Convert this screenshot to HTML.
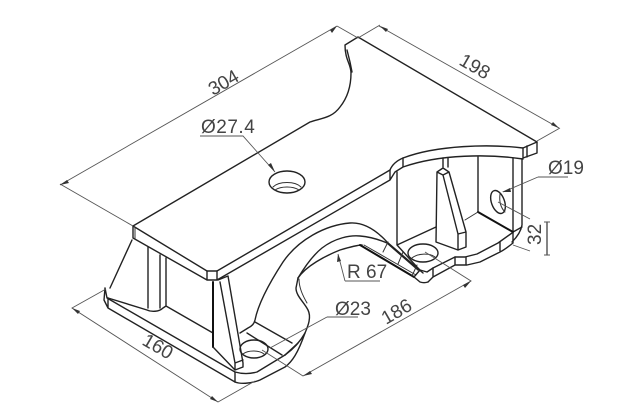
<!DOCTYPE html>
<html><head><meta charset="utf-8"><style>
html,body{margin:0;padding:0;background:#fff}svg{display:block}
text{font-family:"Liberation Sans",sans-serif;font-size:19px;fill:#444}
.b{fill:none;stroke:#222;stroke-width:1.4;stroke-linejoin:round;stroke-linecap:round}
.t{fill:none;stroke:#333;stroke-width:1;stroke-linecap:round}
.k{fill:none;stroke:#111;stroke-width:2;stroke-linecap:round}
.d{fill:none;stroke:#555;stroke-width:.9}
.a{fill:#333}
</style></head><body>
<svg width="640" height="418" viewBox="0 0 640 418" xmlns="http://www.w3.org/2000/svg">
<!-- top plate -->
<path class="b" d="M133 226L310 122C322 118 332 118 340 107C348 97 351 85 351 73C351 64 345 60 345 45L358 37L537 142L523 148C490 144 437 145 403 158C396 161 392 165 390 170L217 271H207L133 226Z"/>
<path class="b" d="M133 226V238L207 280H217L390 180V170M207 271V280M217 271V280M537 142V153L523 158V148M527 146V157M523 159C490 154 440 154 403 167L395 172L390 180M403 158V167M347 50L350 62L352 72"/>
<path class="t" d="M135 228V239"/>
<!-- hole top -->
<ellipse class="b" cx="287" cy="182" rx="18" ry="11"/>
<path class="t" d="M273 187C279 181 295 181 301 187M275 190C281 186 293 186 299 190"/>
<!-- left leg -->
<path class="b" d="M132 240L110 288M108 298L147 310C151 312 159 312 163 308L166 306M148 247V308M160 255V308M166 258V306M166 306L213 333"/>
<path class="b" d="M105 288L104 300L108 308L235 382V372L107 298M105 288L107 298M108 308V298"/>
<path class="b" d="M235 382C240 384 250 384 260 380L285 367C292 362 298 353 305 333M235 372C242 374 250 374 257 372L285 355"/>
<!-- gusset -->
<path class="k" d="M213 282V347"/>
<path class="b" d="M213 347L235 370M218 280L228 276L243 363V367L235 370V363L220 282M235 363L243 360"/>
<!-- arches -->
<path class="b" d="M240 333L248 328C252 326 254 324 255 320C258 305 268 285 283 262C298 240 325 225 350 223C365 222 377 231 387 242L423 273"/>
<path class="b" d="M255 322L292 343M247 333L282 355M285 355L298 343"/>
<path class="b" d="M298 278L296 288C296 296 304 302 308 310C312 318 307 328 305 333C300 342 292 350 285 355"/>
<path class="t" d="M299 279C299 288 303 296 307 303"/>
<path class="b" d="M298 278C306 266 325 256 340 250C350 247 358 245 362 245"/>
<path class="b" d="M298 278C304 268 312 256 322 248C335 238 350 235 360 236C372 237 380 240 387 243L418 270"/>
<path class="k" d="M360 245L414 277"/>
<path class="t" d="M364 245L416 275"/>
<path class="t" d="M388 242L383 252M403 252L398 264M417 265L412 276"/>
<path class="b" d="M414 277L420 282C423 283 425 283 428 282M420 270L414 277"/>
<!-- base holes -->
<ellipse class="b" cx="254" cy="349" rx="14" ry="9"/>
<path class="t" d="M243 354C248 350 259 350 264 354"/>
<ellipse class="b" cx="423" cy="253" rx="15" ry="9"/>
<path class="t" d="M412 258C418 253 430 253 435 257"/>
<!-- right end -->
<path class="b" d="M397 172V245L423 233L436 227M397 245L417 267L420 270L427 272L433 268L455 257H465L477 254L498 243L512 233"/>
<path class="b" d="M437 172L443 168L449 172L443 175ZM449 172L466 232V247L458 250V234L443 175M458 234L466 232M437 172L436 242L458 250M443 158V167M448 158V167"/>
<path class="b" d="M478 157V212M513 158V232M522 159V225C521 231 518 236 512 242M513 232L522 227"/>
<path class="k" d="M478 212L513 232"/>
<path class="t" d="M478 212L465 220"/>
<path class="b" d="M513 243C508 247 504 250 500 252L480 262L467 265H455L433 277L428 282M455 257V265M466 257V265M500 242V252M513 233V243M433 268V277"/>
<ellipse class="b" cx="498" cy="202" rx="6.5" ry="12" transform="rotate(-20 498 202)"/>
<path class="t" d="M500 194C499 202 501 208 505 212"/>
<!-- dimensions -->
<path class="d" d="M133 226L60 184M60 185L337 26M358 38L337 26M358 38L380 25M379 26L559 128M537 141L560 128"/>
<path class="a" d="M60 185L67 180L69 183ZM337 26L330 30L332 33ZM380 26L388 29L386 32ZM559 128L551 125L553 122Z"/>
<path class="d" d="M106 289L72 308L218 402L255 381"/>
<path class="a" d="M72 308L80 311L78 314ZM218 402L210 399L212 396Z"/>
<path class="d" d="M262 350L303 376L471 281L425 252"/>
<path class="a" d="M303 376L310 371L312 374ZM471 281L463 285L465 288Z"/>
<path class="d" d="M200 136H243L275 172M327 317H358M327 317L270 348M345 281H380M345 281L338 254M538 177H568M538 177L503 192M498 202L530 219M513 245L530 251"/>
<path class="k" d="M547 222V255" style="stroke-width:1.2;stroke:#333"/>
<path class="d" d="M544 222H550M544 255H550"/>
<path class="a" d="M275 172L268 165L271 163ZM338 254L337 262L341 261ZM502 192L510 188L511 192Z"/>
<text x="201" y="133" letter-spacing=".5">Ø27.4</text>
<text transform="translate(213 96) rotate(-30)">304</text>
<text transform="translate(458 64) rotate(30)">198</text>
<text transform="translate(141 344) rotate(30)">160</text>
<text transform="translate(386 325) rotate(-30)">186</text>
<text x="335" y="315">Ø23</text>
<text x="347" y="278" font-size="17">R 67</text>
<text x="548" y="174">Ø19</text>
<text transform="translate(541 245) rotate(-90)">32</text>
</svg>
</body></html>
